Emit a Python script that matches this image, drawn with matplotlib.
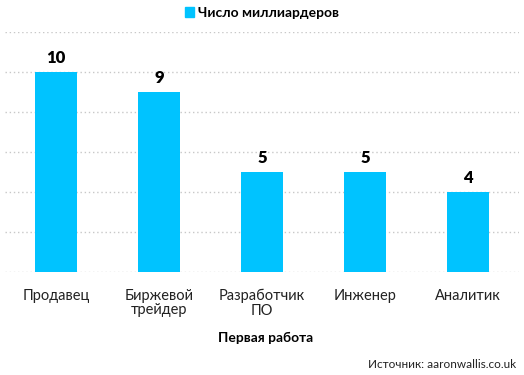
import matplotlib
matplotlib.use("Agg")
import matplotlib.pyplot as plt
from matplotlib.patches import Patch

categories = ["Продавец", "Биржевой\nтрейдер", "Разработчик\nПО", "Инженер", "Аналитик"]
values = [10, 9, 5, 5, 4]
series_name = "Число миллиардеров"

plt.rcParams["font.family"] = ["Lato", "DejaVu Sans"]

color = "#00c3ff"
fig = plt.figure(figsize=(5.24, 3.75), dpi=100)
ax = fig.add_axes([0.0086, 0.2747, 0.9828, 0.64])

x = range(len(categories))
bars = ax.bar(x, values, width=0.4, color=color, zorder=2)
for xi, v in zip(x, values):
    ax.text(xi, v + 0.3, str(v), ha="center", va="bottom", fontsize=12,
            fontweight="heavy", color="black")

ax.set_xlim(-0.5, len(categories) - 0.5)
ax.set_ylim(0, 12)
ax.set_yticks(range(0, 13, 2))
ax.yaxis.grid(True, linestyle=(0, (1, 2)), color="#c8c8c8", linewidth=1)
ax.tick_params(axis="y", left=False, labelleft=False)
ax.tick_params(axis="x", length=0, pad=12, labelsize=10.5, labelcolor="#222222")
ax.set_xticks(list(x))
ax.set_xticklabels(categories, linespacing=1.05)
for s in ax.spines.values():
    s.set_visible(False)
ax.set_axisbelow(True)

fig.text(0.506, 0.1, "Первая работа", ha="center", va="center",
         fontsize=10, fontweight="bold")
fig.text(0.985, 0.027, "Источник: aaronwallis.co.uk", ha="right", va="center",
         fontsize=8.5, color="#222222")

fig.legend(handles=[Patch(color=color)], labels=[series_name], loc="center",
           bbox_to_anchor=(0.5, 0.965), frameon=False, handlelength=0.7,
           handleheight=0.7, handletextpad=0.3,
           prop={"weight": "bold", "size": 10})

fig.savefig("out.png", dpi=100)
